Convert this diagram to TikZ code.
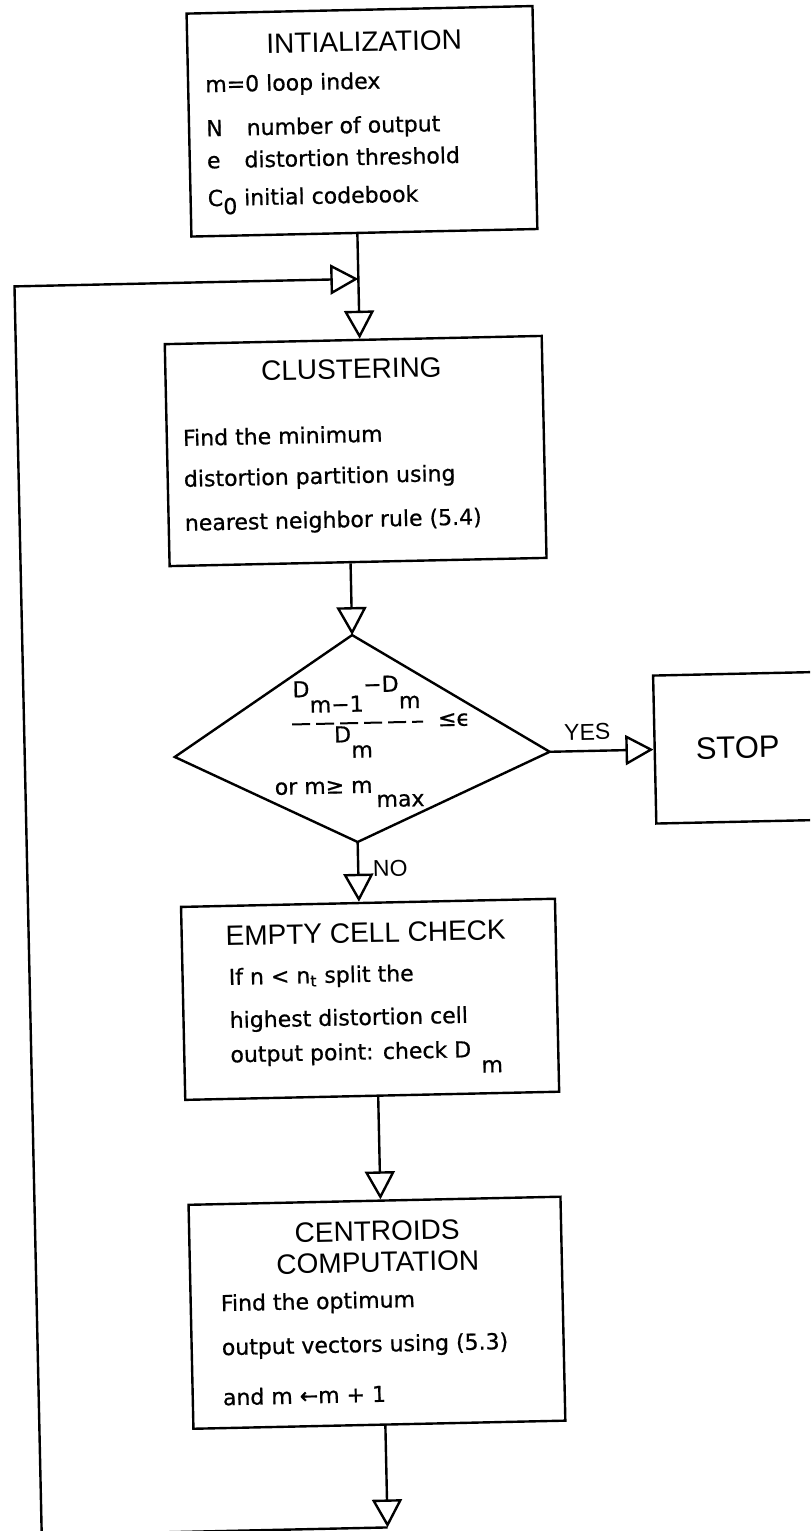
\documentclass[tikz,border=0pt]{standalone}
\usepackage{fontspec}
\setmainfont{DejaVu Sans}[FakeBold=0.7]
\newfontfamily\ttlfont{Liberation Sans}
\usetikzlibrary{arrows.meta,calc}
\begin{document}
\begin{tikzpicture}[x=0.5pt,y=-0.5pt, line width=1.2pt,
  box/.style={draw, inner sep=0pt, transform shape},
  conn/.style={-{Triangle[open,length=14pt,width=15pt]}},
  ttl/.style={font={\ttlfont\fontsize{14}{15.5}\selectfont}, inner sep=0pt, transform shape},
  lbl/.style={font={\ttlfont\fontsize{11.5}{13}\selectfont}, inner sep=0pt, transform shape},
  txt/.style={font={\fontsize{11}{13}\selectfont}, anchor=west, inner sep=0pt, transform shape},
  dtxt/.style={font={\fontsize{11}{13}\selectfont}, anchor=base, inner sep=0pt, transform shape}
]
\useasboundingbox (0,0) rectangle (810,1531);
\clip (0,0) rectangle (810,1531);
\begin{scope}[rotate around={1.25:(405,765)}]
% ---------- initialization
\node[box, minimum width=173pt, minimum height=111.5pt] (init) at (376,120.5) {};
\node[ttl] (initT) at (380,41) {INTIALIZATION};
\node[txt] (i1) at (219,82) {m=0 loop index};
\node[txt] (i2) at (219,126) {N\hspace{12pt}number of output};
\node[txt] (i3) at (219,156) {e\hspace{12pt}distortion threshold};
\node[txt] (i4) at (219,198) {C\raisebox{-0.7ex}{0} initial codebook};
% ---------- clustering
\node[box, minimum width=188.5pt, minimum height=111pt] (clus) at (362.5,450) {};
\node[ttl] (clusT) at (360,368) {CLUSTERING};
\node[txt] (c1) at (189,433) {Find the minimum};
\node[txt] (c2) at (189,476) {distortion partition using};
\node[txt] (c3) at (189,520) {nearest neighbor rule (5.4)};
% ---------- decision
\coordinate (dT) at (355,634);
\coordinate (dL) at (175,752);
\coordinate (dR) at (550,755);
\coordinate (dB) at (356,841);
\draw (dT) -- (dR) -- (dB) -- (dL) -- cycle;
\node[dtxt] (num) at (358,695) {D\raisebox{-1.3ex}{m−1}\raisebox{0.3ex}{−D}\raisebox{-1.1ex}{m}};
\draw[line width=1pt, dash pattern=on 9pt off 3pt] (293,722) -- (424,722);
\node[dtxt] (den) at (354,741) {D\raisebox{-1.3ex}{m}};
\node[dtxt] (leq) at (455,727) {≤ϵ};
\node[dtxt] (orm) at (349,792) {or m≥ m\raisebox{-1.2ex}{\,max}};
% ---------- stop
\node[box, minimum width=80pt, minimum height=74pt] (stop) at (735,755) {};
\node[ttl, font={\ttlfont\fontsize{15.5}{17}\selectfont}] (stopT) at (738,755) {STOP};
% ---------- empty cell check
\node[box, minimum width=187pt, minimum height=96.5pt] (empty) at (365,998.5) {};
\node[ttl] (emptyT) at (362,932) {EMPTY CELL CHECK};
\node[txt] (e1) at (223,975) {If n < n\textsubscript{t} split the};
\node[txt] (e2) at (223,1018) {highest distortion cell};
\node[txt] (e3) at (223,1058) {output point: check D\hspace{5pt}\raisebox{-1.3ex}{m}};
% ---------- centroids
\node[box, minimum width=186pt, minimum height=112pt] (cent) at (365,1312) {};
\node[ttl, align=center] (centT) at (367,1246) {CENTROIDS\\COMPUTATION};
\node[txt] (k1) at (208,1301) {Find the optimum};
\node[txt] (k2) at (208,1345) {output vectors using (5.3)};
\node[txt] (k3) at (208,1393) {and m ←m + 1};
% ---------- loop coordinates
\coordinate (loopT) at (369,278);
\coordinate (loopB) at (371,1527);
\coordinate (cBL) at (25,1527);
\coordinate (cTL) at (25,278);
% ---------- connectors
\draw (init.south -| loopT) -- (loopT);
\draw[conn] (loopT) -- (clus.north -| loopT);
\draw[conn] (clus.south -| dT) -- (dT);
\draw[conn] (dR) -- (stop.west |- dR);
\node[lbl] (yes) at (588,736) {YES};
\draw[conn] (dB) -- (empty.north -| dB);
\node[lbl] (no) at (388,868) {NO};
\draw[conn] (empty.south -| loopB) -- (cent.north -| loopB);
\draw[conn] (cent.south -| loopB) -- (loopB);
\draw[conn] (loopB) -- (cBL) -- (cTL) -- (loopT);
\end{scope}
\end{tikzpicture}
\end{document}
